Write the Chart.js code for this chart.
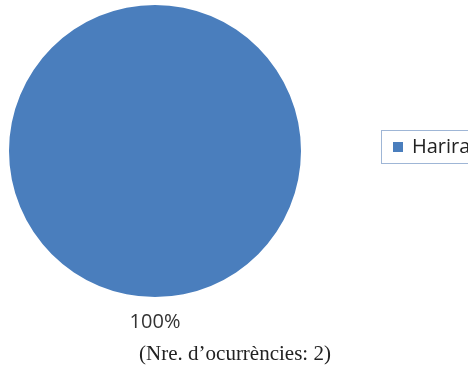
<!DOCTYPE html>
<html>
<head>
<meta charset="utf-8">
<script src="https://cdn.jsdelivr.net/npm/chart.js@4"></script>
<style>
  html, body { margin: 0; padding: 0; background: #fff; }
  #wrap { width: 468px; height: 373px; position: relative; }
</style>
</head>
<body>
<div id="wrap"><canvas id="pie"></canvas></div>
<script>
// dades del gràfic
var categories = ['Harira'];
var valors = [2];
var colors = ['#4a7ebd'];
var peu = '(Nre. d\u2019ocurrències: 2)';

// etiqueta de percentatge, llegenda i peu dibuixats a mà
var extres = {
    id: 'extres',
    afterDraw: function (chart) {
        var ctx = chart.ctx;
        var area = chart.chartArea;
        var total = valors.reduce(function (a, b) { return a + b; }, 0);
        var cx = (area.left + area.right) / 2;
        ctx.save();

        // percentatge sota el pastís
        ctx.fillStyle = '#333';
        ctx.font = '20px "Open Sans", sans-serif';
        ctx.textAlign = 'center';
        ctx.textBaseline = 'middle';
        ctx.fillText(Math.round(valors[0] / total * 100) + '%', cx, area.bottom + 25);

        // llegenda
        ctx.strokeStyle = '#9fb6d6';
        ctx.lineWidth = 1;
        ctx.strokeRect(381.5, 130.5, 100, 33);
        ctx.fillStyle = colors[0];
        ctx.fillRect(393, 142, 10, 10);
        ctx.fillStyle = '#222';
        ctx.textAlign = 'left';
        ctx.font = '20px "Open Sans", sans-serif';
        ctx.fillText(categories[0], 412, 147);

        // peu
        ctx.fillStyle = '#222';
        ctx.textAlign = 'center';
        ctx.font = '21px "Liberation Serif", serif';
        ctx.fillText(peu, 235, 354);
        ctx.restore();
    }
};

var pieChart = new Chart(document.getElementById('pie'), {
    type: 'pie',
    data: {
        labels: categories,
        datasets: [{
            data: valors,
            backgroundColor: colors,
            borderWidth: 0
        }]
    },
    options: {
        responsive: true,
        maintainAspectRatio: false,
        animation: false,
        layout: {
            padding: { left: 9, top: 5, right: 167, bottom: 76 }
        },
        plugins: {
            legend: { display: false },
            tooltip: { enabled: false }
        }
    },
    plugins: [extres]
});
</script>
</body>
</html>
